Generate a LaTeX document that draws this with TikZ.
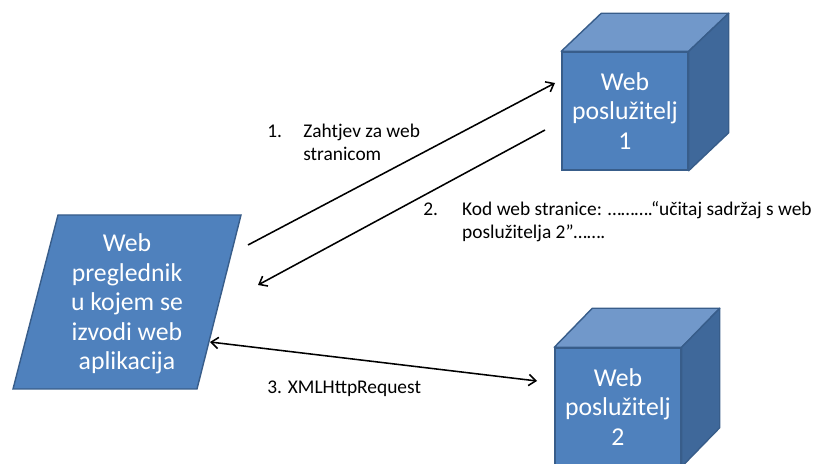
\documentclass[tikz,border=0pt]{standalone}
\usepackage{fontspec}
\setmainfont{Carlito}
\usetikzlibrary{arrows.meta}
\definecolor{boxfill}{HTML}{4F81BD}
\definecolor{boxline}{HTML}{385D8A}
\definecolor{boxtop}{HTML}{7198CA}
\definecolor{boxside}{HTML}{3F689A}
\begin{document}
\begin{tikzpicture}[x=0.025cm, y=-0.025cm, >={Straight Barb[length=5pt, width=8pt]}, front/.style={draw=boxline, fill=boxfill, line width=1pt, text=white, align=center, minimum width=3.15cm, minimum height=2.95cm, inner sep=0pt, font=\fontsize{18.3}{21}\selectfont}, top/.style={draw=boxline, fill=boxtop, line width=1pt, line join=round}, side/.style={draw=boxline, fill=boxside, line width=1pt, line join=round}, msg/.style={align=left, anchor=base west, inner sep=0pt, font=\fontsize{13.8}{16.7}\selectfont}, link/.style={line width=1.1pt}]
	\useasboundingbox (0,0) rectangle (816,464);
	\clip (0,0) rectangle (816,464);
	\draw[front] (13,389) -- (197,389) -- (241,215) -- (58,215) -- cycle;
	\node[front, draw=none, fill=none] (B) at (127,304) {Web\\preglednik\\u kojem se\\izvodi web\\aplikacija};
	\node[front] (S1) at (625,111) {Web\\poslužitelj\\1};
	\draw[top] (S1.north west) -- ([shift={(40,-38)}]S1.north west) -- ([shift={(40,-38)}]S1.north east) -- (S1.north east) -- cycle;
	\draw[side] (S1.north east) -- ([shift={(40,-38)}]S1.north east) -- ([shift={(40,-38)}]S1.south east) -- (S1.south east) -- cycle;
	\node[front] (S2) at (618,407) {Web\\poslužitelj\\2};
	\draw[top] (S2.north west) -- ([shift={(38,-39)}]S2.north west) -- ([shift={(38,-39)}]S2.north east) -- (S2.north east) -- cycle;
	\draw[side] (S2.north east) -- ([shift={(38,-39)}]S2.north east) -- ([shift={(38,-39)}]S2.south east) -- (S2.south east) -- cycle;
	\coordinate (A1) at (248,245);
	\coordinate (E1) at (555,83);
	\coordinate (A2) at (545,130);
	\coordinate (E2) at (258,285);
	\coordinate (A3) at (210,342);
	\coordinate (E3) at (537,381);
	\draw[link, ->] (A1) -- (E1);
	\draw[link, ->] (A2) -- (E2);
	\draw[link, <->] (A3) -- (E3);
	\node[msg] (M1) at (267,161) {\makebox[25.6pt][l]{1.}Zahtjev za web\\\hspace*{25.6pt}stranicom};
	\node[msg] (M2) at (423,239) {\makebox[27.7pt][l]{2.}Kod web stranice: ……….“učitaj sadržaj s web\\\hspace*{27.7pt}poslužitelja 2”…….};
	\node[msg] (M3) at (267,394) {3. XMLHttpRequest};
\end{tikzpicture}
\end{document}
